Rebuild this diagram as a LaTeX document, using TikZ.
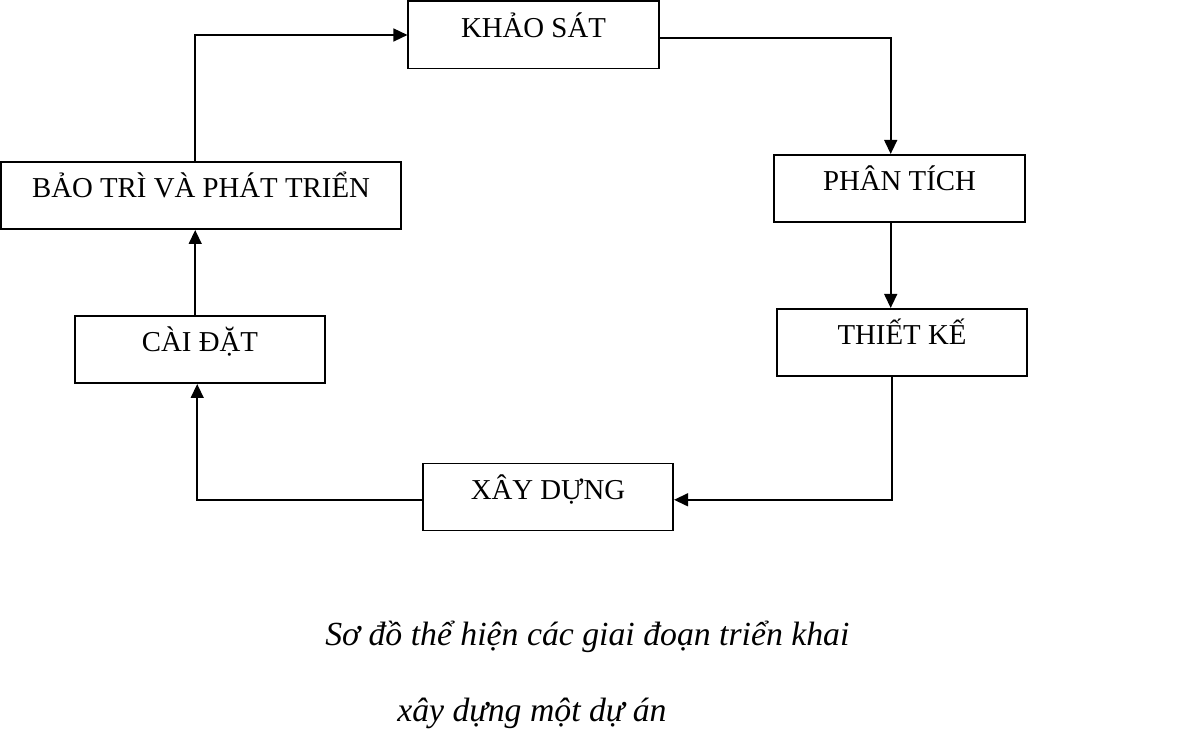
\documentclass[tikz,border=0pt]{standalone}
\usepackage{fontspec}
\setmainfont{Liberation Serif}
\usetikzlibrary{arrows.meta}
\begin{document}
\begin{tikzpicture}[x=0.025cm, y=-0.025cm,
	stage/.style={draw=black, line width=1.4pt, minimum width=6.25cm, minimum height=1.675cm, inner sep=0pt, font=\fontsize{20.5}{24}\selectfont, text height=0.4cm, text depth=0.275cm},
	flow/.style={-{Triangle[length=0.35cm, width=0.32cm]}, line width=1.4pt},
	note/.style={anchor=west, inner sep=0pt, font=\itshape\fontsize{24}{28}\selectfont}]
	\useasboundingbox (0, 0) rectangle (1190, 740);
	
	% các giai đoạn
	\node [stage] (khaosat) at (533.5, 35) {KHẢO SÁT};
	\node [stage] (phantich) at (899.5, 188.5) {PHÂN TÍCH};
	\node [stage] (thietke) at (902, 342.5) {THIẾT KẾ};
	\node [stage] (xaydung) at (548, 497) {XÂY DỰNG};
	\node [stage] (caidat) at (200, 349.5) {CÀI ĐẶT};
	\node [stage, minimum width=10cm] (baotri) at (201, 195.5) {BẢO TRÌ VÀ PHÁT TRIỂN};
	
	% mũi tên
	\draw [flow] ([yshift=-0.07cm]khaosat.east) -| ([xshift=-0.22cm]phantich.north);
	\draw [flow] ([xshift=-0.22cm]phantich.south) -- ([xshift=-0.22cm]phantich.south |- thietke.north);
	\draw [flow] ([xshift=-0.25cm]thietke.south) |- ([yshift=-0.07cm]xaydung.east);
	\draw [flow] ([yshift=-0.07cm]xaydung.west) -| ([xshift=-0.07cm]caidat.south);
	\draw [flow] ([xshift=-0.12cm]caidat.north) -- ([xshift=-0.12cm]caidat.north |- baotri.south);
	\draw [flow] ([xshift=-0.15cm]baotri.north) |- (khaosat.west);
	
	% chú thích
	\node [note] (chuthich1) at (325, 637) {Sơ đồ thể hiện các giai đoạn triển khai};
	\node [note] (chuthich2) at (397, 713) {xây dựng một dự án};
\end{tikzpicture}
\end{document}
